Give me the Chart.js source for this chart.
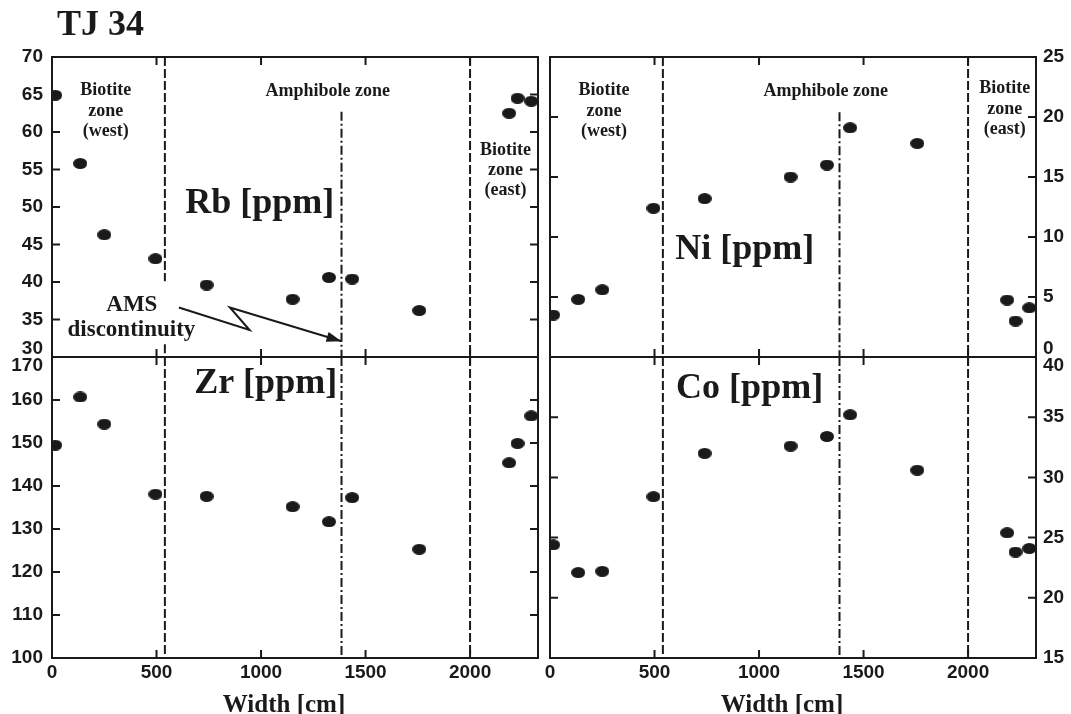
<!DOCTYPE html>
<html>
<head>
<meta charset="utf-8">
<script src="https://cdn.jsdelivr.net/npm/chart.js@4.4.1/dist/chart.umd.min.js"></script>
<style>
  html, body { margin: 0; padding: 0; background: #fff; }
  #wrap { position: relative; width: 1071px; height: 714px; overflow: hidden; }
  #wrap canvas { position: absolute; left: 0; top: 0; }
  #title { position: absolute; left: 57px; top: 5px; font: bold 36px "Liberation Serif", "Times New Roman", serif; line-height: 36px; color: #1a1a1a; }
</style>
</head>
<body>
<div id="wrap">
  <canvas id="rb" width="1071" height="714"></canvas>
  <canvas id="zr" width="1071" height="714"></canvas>
  <canvas id="ni" width="1071" height="714"></canvas>
  <canvas id="co" width="1071" height="714"></canvas>
  <div id="title">TJ 34</div>
</div>
<script>
// sample positions across the profile (cm), same samples in all four panels
const widthCm = [15, 135, 250, 495, 740, 1151, 1325, 1436, 1757, 2187, 2227, 2293];
const rbPpm = [64.9, 55.8, 46.3, 43.1, 39.6, 37.7, 40.6, 40.4, 36.2, 62.5, 64.5, 64.1];
const niPpm = [3.5, 4.8, 5.6, 12.4, 13.2, 15.0, 16.0, 19.1, 17.8, 4.75, 3.0, 4.1];
const zrPpm = [149.5, 160.7, 154.4, 138.1, 137.6, 135.2, 131.7, 137.3, 125.3, 145.4, 149.9, 156.3];
const coPpm = [24.4, 22.1, 22.2, 28.4, 32.0, 32.6, 33.4, 35.2, 30.6, 25.4, 23.8, 24.1];

// tick labels
const widthTicks = [0, 500, 1000, 1500, 2000];
const rbTicks = [30, 35, 40, 45, 50, 55, 60, 65, 70];
const niTicks = [0, 5, 10, 15, 20, 25];
const zrTicks = [100, 110, 120, 130, 140, 150, 160, 170];
const coTicks = [15, 20, 25, 30, 35, 40];

// zone boundaries (cm): west biotite/amphibole, AMS discontinuity, amphibole/east biotite
const zoneBounds = [540, 1385, 2000];

const ink = '#1a1a1a';
const serif = '"Liberation Serif", "Times New Roman", serif';
const sans = '"Liberation Sans", Arial, sans-serif';
const zoneFont = 'bold 18px ' + serif;
const elemFont = 'bold 36px ' + serif;
const amsFont = 'bold 23px ' + serif;
const axisTitleFont = 'bold 25px ' + serif;

function ellipseDot(w, h) {
    const c = document.createElement('canvas');
    c.width = w; c.height = h;
    const g = c.getContext('2d');
    g.fillStyle = ink;
    g.beginPath();
    g.ellipse(w / 2, h / 2, w / 2, h / 2, 0, 0, Math.PI * 2);
    g.fill();
    return c;
}
const dot = ellipseDot(14, 11);

// frame, inward ticks, in-plot texts, axis title and the arrow
const panelDecor = {
    id: 'panelDecor',
    afterDatasetsDraw(chart, args, opts) {
        const { ctx, chartArea: a } = chart;
        const x = chart.scales.x, y = chart.scales.y;
        ctx.save();
        ctx.strokeStyle = ink;
        ctx.lineWidth = 2;
        ctx.strokeRect(a.left, a.top, a.right - a.left, a.bottom - a.top);
        ctx.beginPath();
        opts.xTicks.forEach(v => {
            const px = x.getPixelForValue(v);
            ctx.moveTo(px, a.bottom); ctx.lineTo(px, a.bottom - 8);
            ctx.moveTo(px, a.top); ctx.lineTo(px, a.top + 8);
        });
        opts.yTicks.forEach(v => {
            const py = y.getPixelForValue(v);
            ctx.moveTo(a.left, py); ctx.lineTo(a.left + 8, py);
            ctx.moveTo(a.right, py); ctx.lineTo(a.right - 8, py);
        });
        ctx.stroke();

        ctx.fillStyle = ink;
        ctx.textAlign = 'center';
        ctx.textBaseline = 'middle';
        (opts.labels || []).forEach(l => {
            ctx.font = l.font;
            ctx.fillText(l.text, x.getPixelForValue(l.x), y.getPixelForValue(l.y));
        });

        if (opts.xTitle) {
            ctx.font = axisTitleFont;
            ctx.textBaseline = 'alphabetic';
            ctx.fillText(opts.xTitle.text, x.getPixelForValue(opts.xTitle.x), chart.height - 2);
        }

        if (opts.arrow) {
            const pts = opts.arrow.map(p => [x.getPixelForValue(p[0]), y.getPixelForValue(p[1])]);
            ctx.lineWidth = 2;
            ctx.beginPath();
            pts.forEach((p, i) => i ? ctx.lineTo(p[0], p[1]) : ctx.moveTo(p[0], p[1]));
            ctx.stroke();
            const [tx, ty] = pts[pts.length - 1];
            const [sx, sy] = pts[pts.length - 2];
            const ang = Math.atan2(ty - sy, tx - sx);
            ctx.beginPath();
            ctx.moveTo(tx, ty);
            ctx.lineTo(tx - 15 * Math.cos(ang) + 5 * Math.sin(ang), ty - 15 * Math.sin(ang) - 5 * Math.cos(ang));
            ctx.lineTo(tx - 15 * Math.cos(ang) - 5 * Math.sin(ang), ty - 15 * Math.sin(ang) + 5 * Math.cos(ang));
            ctx.closePath();
            ctx.fill();
        }
        ctx.restore();
    }
};

// vertical zone lines, spans are [from, to] in the panel's y units
function boundaryDatasets(spansPerBound) {
    return zoneBounds.map((bx, i) => {
        const pts = [];
        spansPerBound[i].forEach((s, k) => {
            if (k) pts.push({ x: bx, y: null });
            pts.push({ x: bx, y: s[0] }, { x: bx, y: s[1] });
        });
        return {
            data: pts,
            showLine: true,
            spanGaps: false,
            pointRadius: 0,
            borderColor: ink,
            borderWidth: 2,
            borderDash: i === 1 ? [9, 3, 2, 3] : [9, 3]
        };
    });
}

function tickLabel(edgeUp, edgeDown) {
    return v => {
        if (v === edgeUp) return [String(v), ''];
        if (v === edgeDown) return ['', String(v)];
        return String(v);
    };
}

function makePanel(id, cfg) {
    const tickFont = { family: sans, weight: 'bold', size: 19, lineHeight: 0.9 };
    const xScale = {
        type: 'linear', min: 0, max: 2325,
        display: cfg.bottom,
        afterBuildTicks: s => { s.ticks = widthTicks.map(v => ({ value: v })); },
        afterFit: s => { if (cfg.bottom) s.height = 56; },
        grid: { display: false, drawTicks: false },
        border: { display: false },
        ticks: { autoSkip: false, maxRotation: 0, padding: 6, color: ink, font: tickFont, callback: v => String(v) }
    };
    const yScale = {
        type: 'linear', min: cfg.ticks[0], max: cfg.ticks[cfg.ticks.length - 1],
        position: cfg.side,
        afterBuildTicks: s => { s.ticks = cfg.ticks.map(v => ({ value: v })); },
        afterFit: s => { s.width = cfg.side === 'left' ? 52 : 35; },
        grid: { display: false, drawTicks: false },
        border: { display: false },
        ticks: { autoSkip: false, padding: cfg.side === 'left' ? 9 : 7, color: ink, font: tickFont,
                 callback: tickLabel(cfg.edgeUp, cfg.edgeDown) }
    };
    return new Chart(document.getElementById(id), {
        type: 'scatter',
        data: {
            datasets: [{
                data: widthCm.map((w, i) => ({ x: w, y: cfg.values[i] })),
                pointStyle: dot,
                pointRadius: 6,
                showLine: false
            }].concat(boundaryDatasets(cfg.spans))
        },
        options: {
            responsive: false,
            animation: false,
            events: [],
            layout: { padding: cfg.padding },
            scales: { x: xScale, y: yScale },
            plugins: {
                legend: { display: false },
                tooltip: { enabled: false },
                panelDecor: {
                    xTicks: widthTicks, yTicks: cfg.ticks, labels: cfg.labels, arrow: cfg.arrow,
                    xTitle: cfg.bottom ? { text: 'Width [cm]', x: 1110 } : null
                }
            }
        },
        plugins: [panelDecor]
    });
}

makePanel('rb', {
    values: rbPpm, ticks: rbTicks, side: 'left', bottom: false, edgeUp: 30,
    padding: { left: 0, top: 57, right: 533, bottom: 357 },
    spans: [[[70, 40.1], [31.7, 30]], [[62.7, 30]], [[70, 30]]],
    labels: [
        { text: 'Biotite', x: 257, y: 65.5, font: zoneFont },
        { text: 'zone', x: 257, y: 62.77, font: zoneFont },
        { text: '(west)', x: 257, y: 60.04, font: zoneFont },
        { text: 'Amphibole zone', x: 1319, y: 65.4, font: zoneFont },
        { text: 'Biotite', x: 2170, y: 57.6, font: zoneFont },
        { text: 'zone', x: 2170, y: 54.9, font: zoneFont },
        { text: '(east)', x: 2170, y: 52.2, font: zoneFont },
        { text: 'Rb [ppm]', x: 994, y: 50.5, font: elemFont },
        { text: 'AMS', x: 382, y: 36.9, font: amsFont },
        { text: 'discontinuity', x: 380, y: 33.6, font: amsFont }
    ],
    arrow: [[607, 36.6], [945, 33.6], [851, 36.6], [1385, 32.1]]
});

makePanel('zr', {
    values: zrPpm, ticks: zrTicks, side: 'left', bottom: true, edgeDown: 170,
    padding: { left: 0, top: 357, right: 533, bottom: 0 },
    spans: [[[170, 100]], [[170, 100]], [[170, 100]]],
    labels: [{ text: 'Zr [ppm]', x: 1022, y: 163.9, font: elemFont }]
});

makePanel('ni', {
    values: niPpm, ticks: niTicks, side: 'right', bottom: false, edgeUp: 0,
    padding: { left: 550, top: 57, right: 0, bottom: 357 },
    spans: [[[25, 0]], [[20.4, 0]], [[25, 0]]],
    labels: [
        { text: 'Biotite', x: 258, y: 22.2, font: zoneFont },
        { text: 'zone', x: 258, y: 20.5, font: zoneFont },
        { text: '(west)', x: 258, y: 18.8, font: zoneFont },
        { text: 'Amphibole zone', x: 1319, y: 22.1, font: zoneFont },
        { text: 'Biotite', x: 2175, y: 22.35, font: zoneFont },
        { text: 'zone', x: 2175, y: 20.65, font: zoneFont },
        { text: '(east)', x: 2175, y: 18.95, font: zoneFont },
        { text: 'Ni [ppm]', x: 932, y: 8.9, font: elemFont }
    ]
});

makePanel('co', {
    values: coPpm, ticks: coTicks, side: 'right', bottom: true, edgeDown: 40,
    padding: { left: 550, top: 357, right: 0, bottom: 0 },
    spans: [[[40, 15]], [[40, 15]], [[40, 15]]],
    labels: [{ text: 'Co [ppm]', x: 955, y: 37.35, font: elemFont }]
});
</script>
</body>
</html>
